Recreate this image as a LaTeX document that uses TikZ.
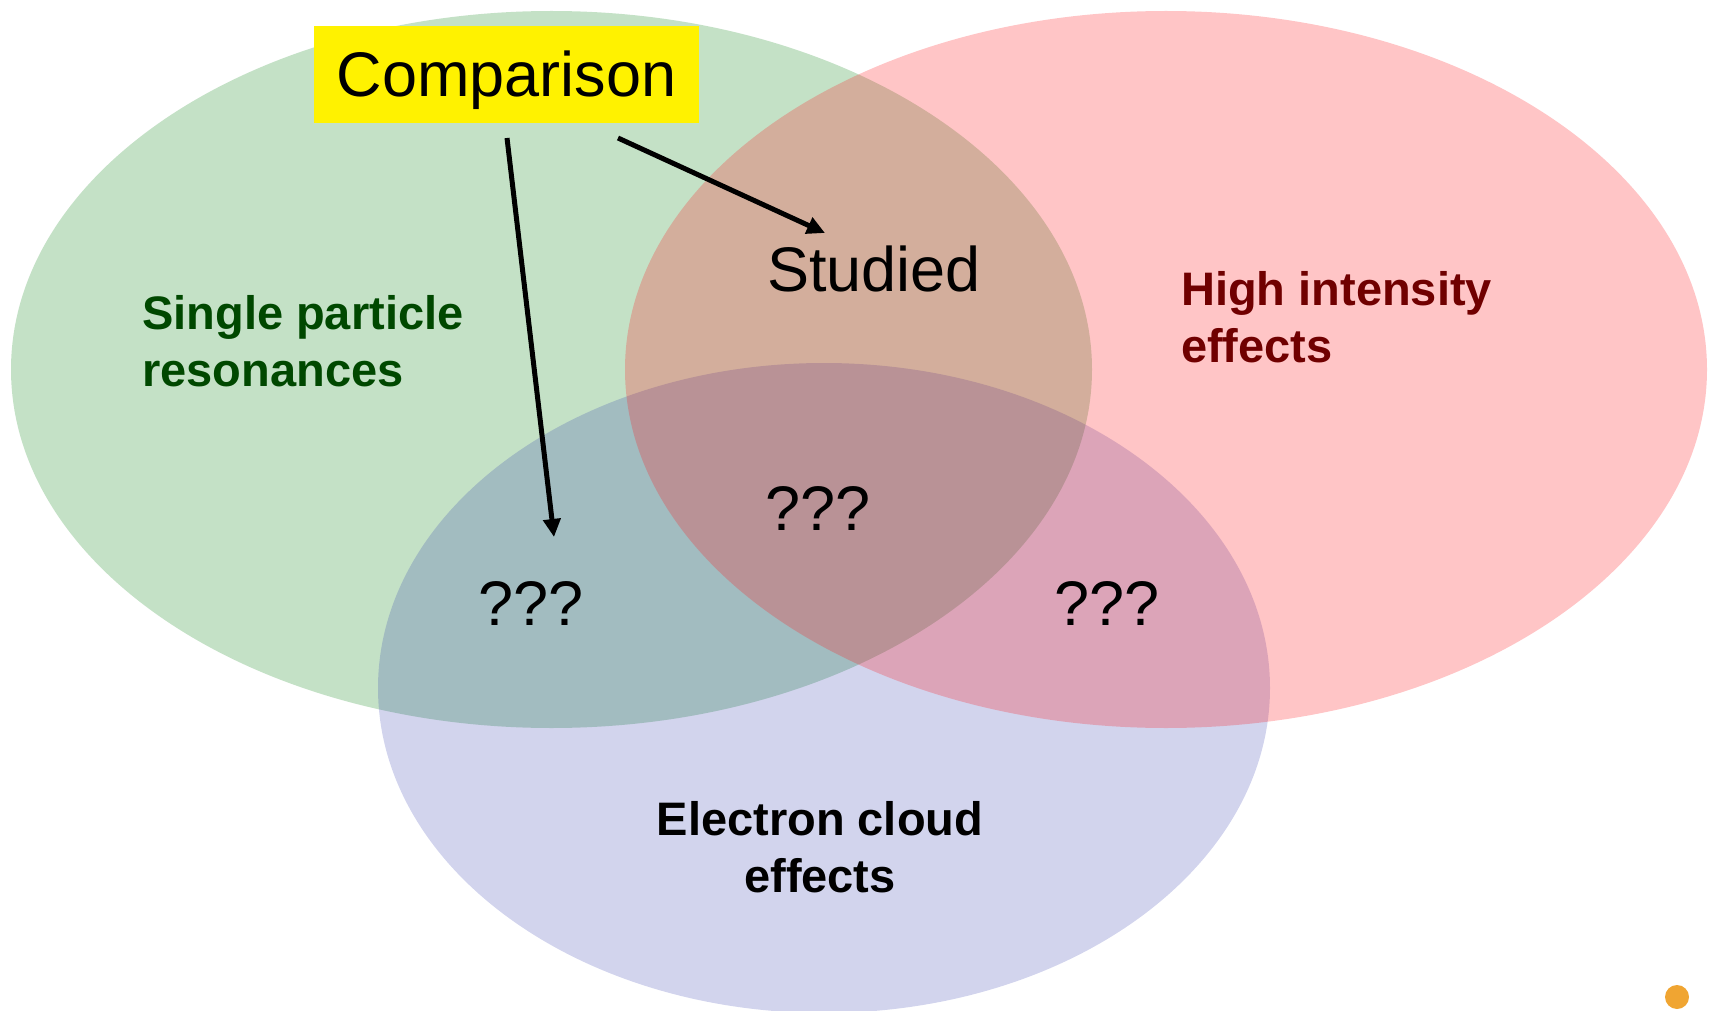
\documentclass[tikz,border=0pt]{standalone}
\usepackage{fontspec}
\setmainfont{Liberation Sans}
\usetikzlibrary{arrows.meta}

\definecolor{spgreen}{RGB}{0,125,10}
\definecolor{hired}{RGB}{255,20,25}
\definecolor{ecblue}{RGB}{41,51,170}
\definecolor{spgreentext}{RGB}{0,72,0}
\definecolor{hiredtext}{RGB}{112,0,0}
\definecolor{blob}{RGB}{240,165,50}

\tikzset{
    region/.style={fill opacity=0.23},
    biglabel/.style={font=\fontsize{63}{76}\selectfont, inner sep=0pt},
    setlabel/.style={font=\fontsize{47}{57}\selectfont\bfseries, inner sep=0pt},
    cmpbox/.style={biglabel, fill=yellow, minimum width=385pt, minimum height=97pt, text height=45pt, text depth=0pt},
    pointer/.style={line width=5pt, -{Triangle[length=18pt,width=17pt]}},
}

\begin{document}
\begin{tikzpicture}[x=1pt, y=-1pt]
        \useasboundingbox (0,0) rectangle (1709,1011);

        % the three sets
        \fill[spgreen, region] (551.5,369.5) ellipse (540.5 and 358.5);
        \fill[ecblue, fill opacity=0.21] (824,688) ellipse (446 and 325);
        \fill[hired, fill opacity=0.246] (1166,369.5) ellipse (541 and 358.5);

        % base anchor sits on the last line
        \node[setlabel, text=spgreentext, align=left, anchor=base west] (single) at (142,386) {Single particle\\resonances};
        \node[setlabel, text=hiredtext, align=left, anchor=base west] (high) at (1181,362) {High intensity\\effects};
        \node[setlabel, align=center, anchor=base] (ecloud) at (820,892) {Electron cloud\\effects};

        \node[biglabel, anchor=base] (studied) at (874,291) {Studied};
        \node[biglabel, anchor=base] (q-left) at (531,625) {???};
        \node[biglabel, anchor=base] (q-mid) at (818,530) {???};
        \node[biglabel, anchor=base] (q-right) at (1107,625) {???};

        \node[cmpbox] (cmp) at (506.5,74.5) {Comparison};

        \coordinate (cmp-l) at (507,138);
        \coordinate (cmp-r) at (618,138);
        \coordinate (to-q) at (554,537);
        \coordinate (to-st) at (825,233);
        \draw[pointer] (cmp-l) -- (to-q);
        \draw[pointer] (cmp-r) -- (to-st);

        \fill[blob] (1677,997) circle (12);
    \end{tikzpicture}
\end{document}
